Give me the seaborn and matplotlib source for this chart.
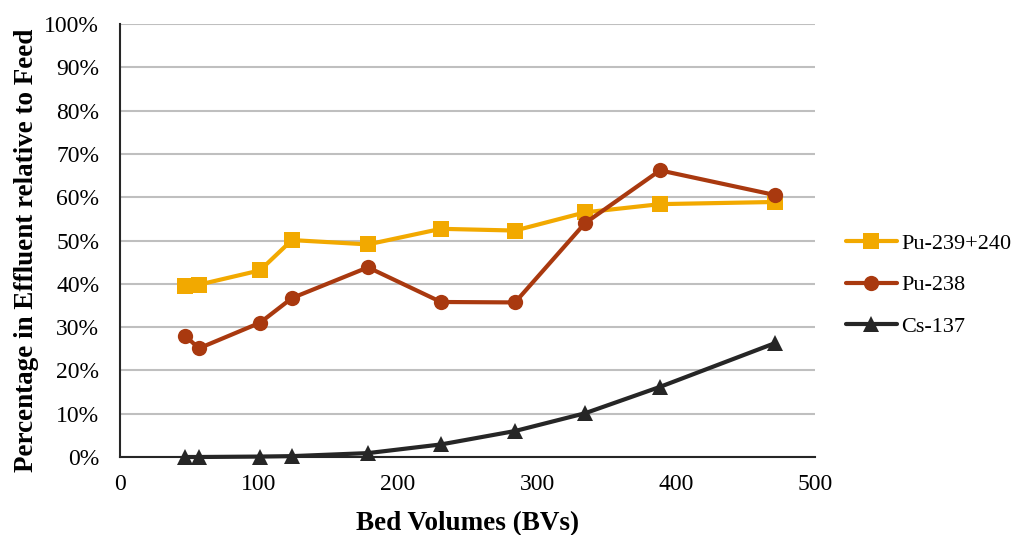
import matplotlib
matplotlib.use("Agg")
import matplotlib.pyplot as plt
import seaborn as sns
import pandas as pd
from matplotlib.ticker import PercentFormatter, MultipleLocator

# Bed volumes sampled and effluent/feed ratios (%)
bed_volumes = [46.8, 56.8, 100.7, 123.7, 178.4, 230.9, 284.2, 334.5, 388.5, 471.2]
pu239_240 = [39.4, 39.8, 43.1, 50.1, 49.1, 52.7, 52.3, 56.5, 58.4, 58.9]
pu238 = [28.0, 25.1, 31.0, 36.7, 43.8, 35.8, 35.7, 54.0, 66.2, 60.5]
cs137 = [0.0, 0.0, 0.1, 0.2, 0.9, 2.9, 6.0, 10.1, 16.2, 26.3]

series_names = ["Pu-239+240", "Pu-238", "Cs-137"]
series_values = [pu239_240, pu238, cs137]
series_colors = ["#F2A900", "#A9390F", "#262626"]
series_markers = ["s", "o", "^"]

sns.set_theme(style="white")
plt.rcParams["font.family"] = ["Liberation Serif", "DejaVu Serif"]
plt.rcParams["font.size"] = 16
plt.rcParams["text.color"] = "black"
plt.rcParams["axes.labelcolor"] = "black"

fig = plt.figure(figsize=(10.22, 5.35), dpi=100)
ax = fig.add_axes([0.1174, 0.1458, 0.7975 - 0.1174, 0.9551 - 0.1458])

for name, vals, col, mk in zip(series_names, series_values, series_colors, series_markers):
    df = pd.DataFrame({"bv": bed_volumes, "pct": vals})
    sns.lineplot(data=df, x="bv", y="pct", ax=ax, color=col, marker=mk,
                 markersize=11, markeredgewidth=0, linewidth=3, label=name,
                 zorder=3, clip_on=False)

ax.set_xlim(0, 500)
ax.set_ylim(0, 100)
ax.xaxis.set_major_locator(MultipleLocator(100))
ax.yaxis.set_major_locator(MultipleLocator(10))
ax.yaxis.set_major_formatter(PercentFormatter(decimals=0))
ax.grid(axis="y", color="#BFBFBF", linewidth=1.5, zorder=0)
ax.grid(axis="x", visible=False)
for s in ["top", "right"]:
    ax.spines[s].set_visible(False)
for s in ["left", "bottom"]:
    ax.spines[s].set_color("#262626")
    ax.spines[s].set_linewidth(1.5)
ax.tick_params(axis="y", length=0, labelsize=17, colors="black", pad=15)
ax.tick_params(axis="x", length=0, labelsize=17, colors="black", pad=12)

ax.set_xlabel("Bed Volumes (BVs)", fontsize=19.5, fontweight="bold", labelpad=12)
ax.set_ylabel("Percentage in Effluent relative to Feed", fontsize=19.5,
              fontweight="bold", labelpad=4, y=0.478)

ax.get_legend().remove()
handles, labels = ax.get_legend_handles_labels()
fig.legend(handles, labels, loc="center left", bbox_to_anchor=(0.808, 0.467),
           frameon=False, fontsize=16, handlelength=2.3, labelspacing=0.95,
           handletextpad=0.2)

fig.savefig("out.png", dpi=100)
